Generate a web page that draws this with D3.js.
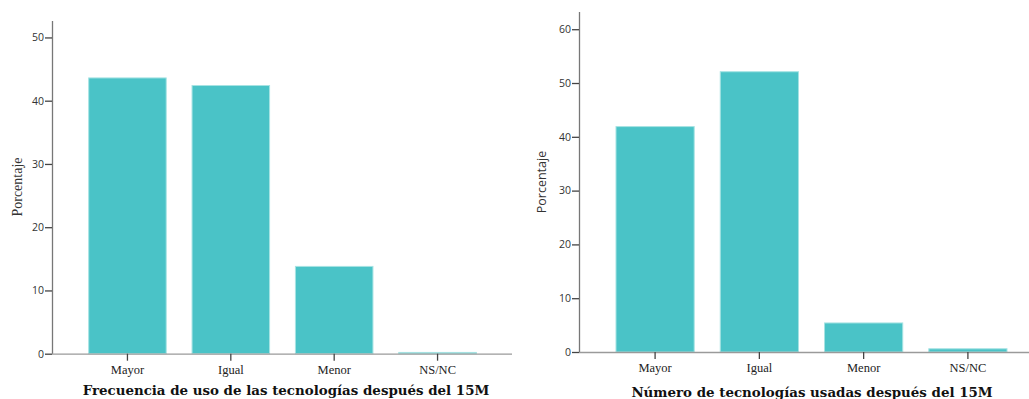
<!DOCTYPE html>
<html><head><meta charset="utf-8">
<script src="https://cdn.jsdelivr.net/npm/d3@7"></script>
<style>
html,body{margin:0;padding:0;background:#fff;}
svg{display:block;}
</style></head>
<body>
<svg id="c" width="1029" height="399"></svg>
<script>
const categories = ["Mayor", "Igual", "Menor", "NS/NC"];
const frecuenciaValues = [43.6, 42.4, 13.8, 0.2];
const numeroValues = [41.9, 52.1, 5.4, 0.6];
const leftTicks = [0, 10, 20, 30, 40, 50];
const rightTicks = [0, 10, 20, 30, 40, 50, 60];
const leftTitle = "Frecuencia de uso de las tecnologías después del 15M";
const rightTitle = "Número de tecnologías usadas después del 15M";
const yLabel = "Porcentaje";

const svg = d3.select("#c");
const BAR = "#4ac3c7", BAR_EDGE = "#a6e3e3";

function panel(o) {
  const g = svg.append("g");
  const y = d3.scaleLinear().domain([0, o.ymax]).range([o.y0, o.ytop]);
  const x = d3.scaleBand().domain(categories).range([o.x0, o.x0 + o.bandSpan])
    .paddingInner(0.25).paddingOuter(0.35);

  g.selectAll("rect.bar").data(o.values).enter().append("rect")
    .attr("class", "bar")
    .attr("x", (d, i) => x(categories[i]) + 0.5)
    .attr("width", x.bandwidth())
    .attr("y", d => y(d))
    .attr("height", d => y(0) - y(d))
    .attr("fill", BAR).attr("stroke", BAR_EDGE).attr("stroke-width", 1);

  g.append("line").attr("x1", o.x0).attr("x2", o.xend)
    .attr("y1", y(0) + 0.5).attr("y2", y(0) + 0.5)
    .attr("stroke", "#9a9a9a").attr("stroke-width", 1.3);

  const xa = g.append("g").attr("transform", `translate(0.5,${y(0)})`)
    .call(d3.axisBottom(x).tickSize(7).tickPadding(4));
  xa.select(".domain").remove();
  xa.selectAll(".tick line").attr("stroke", "#444").attr("stroke-width", 1.3);
  xa.selectAll(".tick text").attr("fill", "#222")
    .style("font-family", "'Liberation Serif', serif").style("font-size", "12.5px");

  const ya = g.append("g").attr("transform", `translate(${o.x0},0)`)
    .call(d3.axisLeft(y).tickValues(o.ticks).tickSize(7).tickPadding(1).tickSizeOuter(0));
  ya.select(".domain").attr("d", `M0.5,${o.ytop}V${y(0)}`).attr("stroke", "#777").attr("stroke-width", 1.3);
  ya.selectAll(".tick line").attr("stroke", "#444").attr("stroke-width", 1.3);
  ya.selectAll(".tick text").attr("fill", "#333")
    .style("font-family", "'Open Sans', sans-serif").style("font-size", "10.5px");

  g.append("text").text(yLabel)
    .attr("transform", `translate(${o.ylabX},${o.ylabY}) rotate(-90)`)
    .attr("text-anchor", "middle").attr("fill", "#333")
    .style("font-family", o.ylabFont).style("font-size", o.ylabSize);

  g.append("text").text(o.title)
    .attr("x", o.titleX).attr("y", o.titleY).attr("text-anchor", "middle")
    .attr("fill", "#111").style("font-family", "'DejaVu Serif', serif")
    .style("font-weight", "bold").style("font-size", o.titleSize);
}

panel({values: frecuenciaValues, ticks: leftTicks, ymax: 52.6, y0: 353.7, ytop: 21,
  x0: 52, bandSpan: 460, xend: 512, ylabX: 22, ylabY: 187, ylabFont: "'Liberation Serif', serif", ylabSize: "14px",
  title: leftTitle, titleX: 286, titleY: 395, titleSize: "13.4px"});
panel({values: numeroValues, ticks: rightTicks, ymax: 63.2, y0: 352, ytop: 12,
  x0: 579, bandSpan: 464, xend: 1029, ylabX: 546, ylabY: 182, ylabFont: "'Open Sans', sans-serif", ylabSize: "12.5px",
  title: rightTitle, titleX: 812, titleY: 397, titleSize: "13.4px"});
</script>
</body></html>
